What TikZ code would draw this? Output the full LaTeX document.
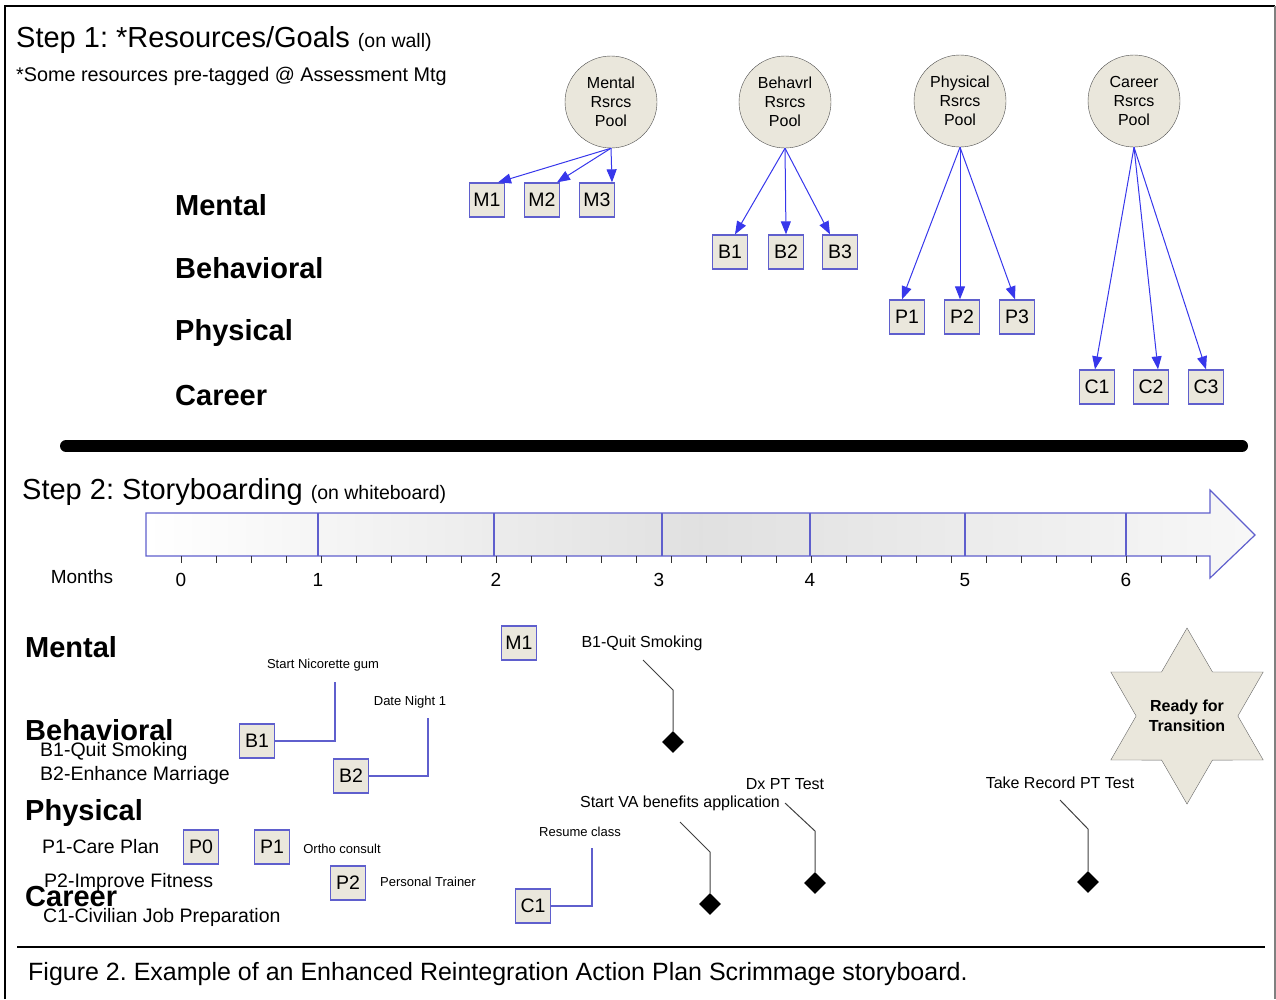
\documentclass[tikz,border=0pt]{standalone}
\usepackage{fontspec}
\setmainfont{Liberation Sans}
\usepackage{xcolor}
\usepackage{tikz}
\usetikzlibrary{arrows.meta,shapes.geometric}
\definecolor{tagfill}{RGB}{234,231,220}
\definecolor{tagline}{RGB}{95,95,205}
\definecolor{feedblue}{RGB}{55,55,235}
\newcommand{\fsz}[1]{\fontsize{#1}{#1}\selectfont}
\frenchspacing

\begin{document}
\begin{tikzpicture}[x=1pt, y=-1pt, inner sep=0pt,
	pool/.style = {draw=black!70, fill=tagfill, circle, minimum size=92pt, align=center, font=\fontsize{16}{19}\selectfont},
	tag/.style = {draw=tagline, fill=tagfill, line width=1.3pt, minimum width=35pt, minimum height=34pt, font=\fsz{19.5}},
	feed/.style = {-{Triangle[length=13pt,width=10pt]}, feedblue, line width=1pt},
	row/.style = {anchor=west, font=\bfseries\fsz{29}},
	goal/.style = {anchor=west, font=\fsz{19.5}},
	note/.style = {font=\fsz{13}},
	event/.style = {font=\fsz{16}},
	link/.style = {draw=tagline, line width=1.2pt},
	lead/.style = {draw=black!75, line width=1pt},
	gem/.style = {diamond, fill=black, minimum size=22pt}]
	\useasboundingbox (0,0) rectangle (1276,999);
	% frame
	\draw[line width=2pt] (5,999) -- (5,6) -- (1275,6);
	\draw[black!50, line width=1.5pt] (1275,6) -- (1275,999);
	\draw[line width=2.5pt] (17,947) -- (1265,947);

	% step 1
	\node[anchor=base west, font=\fsz{29}] (step1) at (16,47) {Step 1: *Resources/Goals {\fsz{19.5}(on wall)}};
	\node[anchor=base west, font=\fsz{19.8}] (pretag) at (16,81) {*Some resources pre-tagged @ Assessment Mtg};
	\node[row] (r1) at (175,205) {Mental};
	\node[row] (r2) at (175,268) {Behavioral};
	\node[row] (r3) at (175,333) {Physical};
	\node[row] (r4) at (175,396) {Career};

	\node[pool] (mpool) at (611,102) {Mental\\Rsrcs\\Pool};
	\node[pool] (bpool) at (785,102) {Behavrl\\Rsrcs\\Pool};
	\node[pool] (ppool) at (960,101) {Physical\\Rsrcs\\Pool};
	\node[pool] (cpool) at (1134,101) {Career\\Rsrcs\\Pool};

	\node[tag] (m1) at (487,200) {M1};
	\node[tag] (m2) at (542,200) {M2};
	\node[tag] (m3) at (597,200) {M3};
	\node[tag] (b1) at (730,252) {B1};
	\node[tag] (b2) at (786,252) {B2};
	\node[tag] (b3) at (840,252) {B3};
	\node[tag] (p1) at (907,317) {P1};
	\node[tag] (p2) at (962,317) {P2};
	\node[tag] (p3) at (1017,317) {P3};
	\node[tag] (c1) at (1097,387) {C1};
	\node[tag] (c2) at (1151,387) {C2};
	\node[tag] (c3) at (1206,387) {C3};

	\draw[feed] (mpool.south) -- ([xshift=11pt]m1.north);
	\draw[feed] (mpool.south) -- ([xshift=15pt]m2.north);
	\draw[feed] (mpool.south) -- ([xshift=15pt]m3.north);
	\draw[feed] (bpool.south) -- ([xshift=5pt]b1.north);
	\draw[feed] (bpool.south) -- (b2.north);
	\draw[feed] (bpool.south) -- ([xshift=-10pt]b3.north);
	\draw[feed] (ppool.south) -- ([xshift=-5pt]p1.north);
	\draw[feed] (ppool.south) -- ([xshift=-2pt]p2.north);
	\draw[feed] (ppool.south) -- ([xshift=-2pt]p3.north);
	\draw[feed] (cpool.south) -- ([xshift=-2pt]c1.north);
	\draw[feed] (cpool.south) -- ([xshift=7pt]c2.north);
	\draw[feed] (cpool.south) -- (c3.north);

	\draw[line width=12pt, line cap=round] (66,446) -- (1242,446);

	% step 2
	\node[anchor=base west, font=\fsz{29}] (step2) at (22,499) {Step 2: Storyboarding {\fsz{19.5}(on whiteboard)}};
	\shade[left color=white, right color=black!3, middle color=black!12] (146,513) -- (1210,513) -- (1210,490) -- (1255,535) -- (1210,578) -- (1210,556) -- (146,556) -- cycle;
	\draw[tagline, line width=1.2pt] (146,513) -- (1210,513) -- (1210,490) -- (1255,535) -- (1210,578) -- (1210,556) -- (146,556) -- cycle;
	\foreach \x in {318,494,662,810,965,1126}
		\draw[tagline, line width=1.2pt] (\x,513) -- (\x,556);
	\foreach \i in {0,...,29}
		\draw[black!80, line width=1pt] (181+35*\i,556) -- (181+35*\i,563);
	\node[font=\fsz{19}] (months) at (82,577) {Months};
	\node[font=\fsz{19}] (t0) at (181,580) {0};
	\node[font=\fsz{19}] (t1) at (318,580) {1};
	\node[font=\fsz{19}] (t2) at (496,580) {2};
	\node[font=\fsz{19}] (t3) at (659,580) {3};
	\node[font=\fsz{19}] (t4) at (810,580) {4};
	\node[font=\fsz{19}] (t5) at (965,580) {5};
	\node[font=\fsz{19}] (t6) at (1126,580) {6};

	\node[row] (mental) at (25,647) {Mental};
	\node[row] (behav) at (25,730) {Behavioral};
	\node[goal] (quitgoal) at (40,751) {B1-Quit Smoking};
	\node[goal] (marrgoal) at (40,775) {B2-Enhance Marriage};
	\node[row] (phys) at (25,813) {Physical};
	\node[goal] (caregoal) at (42,847) {P1-Care Plan};
	\node[goal] (fitgoal) at (44,882) {P2-Improve Fitness};
	\node[row] (career) at (25,897) {Career};
	\node[goal] (jobgoal) at (43,917) {C1-Civilian Job Preparation};

	\node[tag] (sb1) at (257,741) {B1};
	\node[tag] (sb2) at (351,776) {B2};
	\node[tag] (sp0) at (201,847) {P0};
	\node[tag] (sp1) at (272,847) {P1};
	\node[tag] (sp2) at (348,883) {P2};
	\node[tag] (sm1) at (519,643) {M1};
	\node[tag] (sc1) at (533,906) {C1};

	\node[note] (gum) at (323,665) {Start Nicorette gum};
	\node[note] (date) at (410,702) {Date Night 1};
	\node[note] (ortho) at (342,849) {Ortho consult};
	\node[note] (trainer) at (428,882) {Personal Trainer};
	\node[note] (resume) at (580,832) {Resume class};
	\coordinate (gumend) at (335,682);
	\coordinate (dateend) at (428,718);
	\coordinate (resend) at (592,848);
	\draw[link] (sb1.east) -| (gumend);
	\draw[link] (sb2.east) -| (dateend);
	\draw[link] (sc1.east) -| (resend);

	\node[event] (quit) at (642,643) {B1-Quit Smoking};
	\node[event] (va) at (680,803) {Start VA benefits application};
	\node[event] (dx) at (785,784) {Dx PT Test};
	\node[event] (rec) at (1060,783) {Take Record PT Test};
	\node[gem] (dquit) at (673,742) {};
	\node[gem] (dva) at (710,904) {};
	\node[gem] (ddx) at (815,883) {};
	\node[gem] (drec) at (1088,882) {};
	\coordinate (q1) at (643,660);
	\coordinate (q2) at (673,690);
	\coordinate (v1) at (680,822);
	\coordinate (v2) at (710,852);
	\coordinate (x1) at (785,803);
	\coordinate (x2) at (815,831);
	\coordinate (e1) at (1060,800);
	\coordinate (e2) at (1088,829);
	\draw[lead] (q1) -- (q2) -- (dquit);
	\draw[lead] (v1) -- (v2) -- (dva);
	\draw[lead] (x1) -- (x2) -- (ddx);
	\draw[lead] (e1) -- (e2) -- (drec);

	\node[star, star points=6, star point ratio=1.73, minimum size=176pt, draw=black!60, fill=tagfill] (ready) at (1187,716) {};
	\node[align=center, font=\bfseries\fontsize{16}{20}\selectfont] (readytext) at (ready.center) {Ready for\\Transition};

	\node[anchor=base west, font=\fsz{25}] (caption) at (28,980) {Figure 2. Example of an Enhanced Reintegration Action Plan Scrimmage storyboard.};
\end{tikzpicture}
\end{document}
